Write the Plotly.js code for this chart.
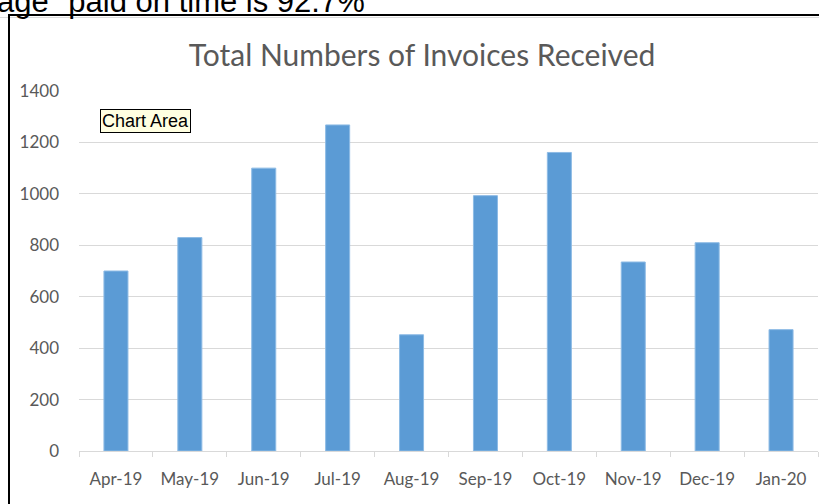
<!DOCTYPE html>
<html>
<head>
<meta charset="utf-8">
<script src="https://cdn.plot.ly/plotly-3.0.1.min.js"></script>
<style>html,body{margin:0;padding:0;background:#fff;}#chart{width:819px;height:504px;}</style>
</head>
<body>
<div id="chart"></div>
<script>
var months = ["Apr-19","May-19","Jun-19","Jul-19","Aug-19","Sep-19","Oct-19","Nov-19","Dec-19","Jan-20"];
var invoices = [700, 830, 1100, 1268, 452, 993, 1161, 735, 810, 472];
var yTicks = [0, 200, 400, 600, 800, 1000, 1200, 1400];

var L = 79, R = 818, T = 91, B = 451;
function px2x(px){ return (px - L) / (R - L); }
function px2y(py){ return (B - py) / (B - T); }

var trace = {
  type: "bar",
  x: months,
  y: invoices,
  marker: {color: "#5B9BD5", line: {color: "#8DBBE5", width: 1}},
  hoverinfo: "skip"
};

var layout = {
  width: 819, height: 504,
  margin: {l: L, r: 819 - R, t: T, b: 504 - B, pad: 0},
  paper_bgcolor: "#ffffff",
  plot_bgcolor: "#ffffff",
  showlegend: false,
  bargap: 0.675,
  font: {family: "Lato, 'Open Sans', sans-serif", color: "#595959", size: 17},
  title: {
    text: "Total Numbers of Invoices Received",
    font: {family: "Lato, 'Open Sans', sans-serif", size: 30, color: "#595959"},
    xref: "container", yref: "container",
    x: 422 / 819, xanchor: "center",
    y: 1 - 55 / 504, yanchor: "middle"
  },
  xaxis: {
    type: "category",
    showgrid: false,
    showline: true, linecolor: "#d9d9d9", linewidth: 1,
    ticks: "outside", tickson: "boundaries", ticklen: 5, tickcolor: "#d9d9d9", tickwidth: 1,
    ticklabelstandoff: 13,
    tickfont: {size: 17, color: "#595959"},
    zeroline: false,
    fixedrange: true
  },
  yaxis: {
    range: [0, 1400],
    tickvals: yTicks,
    ticktext: yTicks.map(String),
    showgrid: true, gridcolor: "#d9d9d9", gridwidth: 1,
    zeroline: false,
    showline: false,
    ticks: "",
    ticklabelstandoff: 19,
    tickfont: {size: 17, color: "#595959"},
    fixedrange: true
  },
  shapes: [
    {type: "line", xref: "paper", yref: "paper", x0: px2x(0), x1: px2x(830), y0: px2y(17.5), y1: px2y(17.5), line: {color: "#dcdcdc", width: 1}},
    {type: "line", xref: "paper", yref: "paper", x0: px2x(8), x1: px2x(830), y0: px2y(15), y1: px2y(15), line: {color: "#000000", width: 2}},
    {type: "line", xref: "paper", yref: "paper", x0: px2x(9), x1: px2x(9), y0: px2y(14), y1: px2y(510), line: {color: "#000000", width: 2}}
  ],
  annotations: [
    {text: "age\" paid on time is 92.7%", xref: "paper", yref: "paper",
     x: px2x(367), xanchor: "right", y: px2y(21), yanchor: "bottom",
     showarrow: false, font: {family: "'Liberation Sans', Arial, sans-serif", size: 31, color: "#000000"}},
    {text: "Chart Area", xref: "paper", yref: "paper",
     x: px2x(145.5), xanchor: "center", y: px2y(120.5), yanchor: "middle",
     showarrow: false, bgcolor: "#FFFFE1", bordercolor: "#000000", borderwidth: 1, borderpad: 1,
     font: {family: "'Liberation Sans', Arial, sans-serif", size: 18, color: "#000000"}}
  ]
};

Plotly.newPlot("chart", [trace], layout, {displayModeBar: false, staticPlot: true});
</script>
</body>
</html>
